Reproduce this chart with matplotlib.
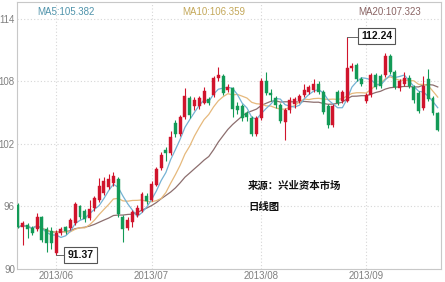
import matplotlib
matplotlib.use("Agg")
import matplotlib.pyplot as plt
import numpy as np
import pandas as pd

# ---- data ----
dates = pd.bdate_range("2013-05-22", "2013-09-23")
opens = [96.1, 94.0, 94.2, 93.9, 93.8, 95.0, 93.8, 93.6, 91.5, 93.5,
         94.0, 93.9, 94.4, 96.0, 95.6, 94.9, 95.9, 96.6, 97.3, 97.9,
         98.3, 98.6, 95.0, 93.9, 94.5, 95.2, 95.6, 97.0, 96.6, 98.1,
         99.7, 101.4, 101.1, 104.0, 103.0, 104.6, 106.4, 105.6, 105.6, 105.9,
         106.3, 106.7, 108.3, 108.5, 107.2, 107.35, 105.6, 105.6, 105.0, 104.5,
         103.0, 104.5, 108.0, 106.9, 106.4, 105.75, 104.1, 105.3, 105.8, 106.1,
         106.7, 107.0, 107.2, 107.8, 107.0, 105.6, 103.8, 107.0, 106.1, 106.1,
         109.3, 109.6, 108.2, 106.1, 106.7, 108.6, 108.5, 108.6, 110.4, 108.9,
         107.35, 107.8, 108.3, 107.5, 106.9, 105.5, 108.2, 106.4, 104.95]
highs = [96.3, 94.6, 94.4, 94.1, 95.4, 95.1, 94.0, 94.0, 93.7, 94.0,
         94.1, 94.9, 96.4, 96.1, 95.8, 96.6, 97.0, 98.7, 98.8, 99.1,
         99.3, 98.8, 95.2, 95.0, 95.7, 96.1, 97.4, 97.3, 98.4, 99.8,
         101.2, 101.7, 103.2, 104.3, 104.8, 107.4, 106.6, 106.5, 106.6, 107.5,
         106.5, 108.5, 109.4, 108.7, 107.8, 107.5, 106.0, 105.8, 105.2, 104.7,
         104.7, 108.3, 108.9, 107.3, 106.6, 105.9, 105.5, 106.5, 106.5, 106.8,
         107.8, 107.7, 108.2, 108.0, 107.2, 105.8, 105.8, 107.2, 107.2, 112.24,
         109.8, 109.8, 108.4, 106.9, 108.8, 108.8, 108.7, 110.7, 110.6, 109.1,
         108.2, 108.9, 108.6, 107.7, 107.1, 108.5, 109.2, 106.6, 105.1]
lows = [93.9, 92.3, 93.0, 93.3, 93.6, 92.6, 91.6, 91.9, 91.37, 93.3,
        93.4, 93.7, 94.2, 94.8, 94.5, 94.7, 95.6, 96.4, 97.1, 97.7,
        98.0, 95.0, 92.6, 93.7, 94.0, 95.0, 95.5, 96.2, 96.5, 98.0,
        99.5, 100.4, 100.9, 102.7, 102.8, 104.4, 104.5, 105.3, 105.4, 105.8,
        105.7, 106.5, 108.0, 106.7, 107.0, 104.6, 104.9, 104.2, 104.2, 102.8,
        102.8, 104.3, 106.7, 106.1, 105.5, 104.0, 102.4, 105.0, 105.5, 105.9,
        106.5, 106.8, 107.0, 106.8, 104.9, 103.5, 103.6, 105.7, 105.9, 106.0,
        109.0, 108.0, 107.6, 105.9, 106.5, 107.3, 107.4, 108.4, 108.7, 107.3,
        107.1, 107.6, 107.4, 105.9, 105.0, 105.3, 106.1, 104.8, 103.2]
closes = [94.0, 94.4, 93.8, 93.5, 95.0, 92.8, 92.5, 92.5, 93.5, 93.85,
          93.6, 94.7, 96.2, 95.0, 94.8, 95.8, 96.8, 98.0, 98.4, 98.6,
          98.9, 95.3, 93.8, 94.7, 95.5, 95.9, 97.2, 96.5, 98.2, 99.6,
          100.9, 101.1, 102.7, 103.0, 104.6, 106.6, 104.8, 106.2, 106.4, 107.1,
          105.9, 108.3, 108.6, 106.9, 107.5, 105.4, 105.3, 104.5, 104.6, 103.0,
          104.5, 108.0, 106.9, 106.7, 105.75, 104.2, 105.3, 106.2, 106.3, 106.6,
          107.2, 107.5, 107.8, 107.0, 105.1, 103.8, 105.6, 105.9, 107.0, 109.3,
          109.5, 108.2, 107.8, 106.7, 108.6, 107.5, 107.6, 110.4, 108.9, 107.5,
          108.0, 108.3, 107.6, 106.2, 105.2, 107.6, 106.3, 105.0, 103.3]
ma_labels = ["MA5:105.382", "MA10:106.359", "MA20:107.323"]
month_labels = ["2013/06", "2013/07", "2013/08", "2013/09"]
y_ticks = [90, 96, 102, 108, 114]
high_label = "112.24"
low_label = "91.37"
source_text = "来源：兴业资本市场"
type_text = "日线图"

# ---- figure ----
W, H = 445, 282
fig = plt.figure(figsize=(W / 100, H / 100), dpi=100)
ax = fig.add_axes([17 / W, 1 - 269 / H, 424 / W, 267 / H])

o = np.array(opens); h = np.array(highs); l = np.array(lows); c = np.array(closes)
x = np.arange(len(c))
up = c >= o
RED = "#d0142c"
GREEN = "#139a57"
cols = np.where(up, RED, GREEN)

ax.vlines(x, l, h, colors=cols, linewidth=0.8, zorder=3)
body_low = np.minimum(o, c)
body_h = np.maximum(np.abs(c - o), 0.12)
ax.bar(x, body_h, bottom=body_low, width=0.62, color=cols, edgecolor=cols,
       linewidth=0.3, zorder=4)

s = pd.Series(c)
ma5 = s.rolling(5, min_periods=1).mean()
ma10 = s.rolling(10, min_periods=1).mean()
ma20 = s.rolling(20, min_periods=1).mean()
ax.plot(x, ma20, color="#8c6e6e", lw=0.9, zorder=2)
ax.plot(x, ma10, color="#e6b97c", lw=0.9, zorder=2)
ax.plot(x, ma5, color="#74b2d4", lw=0.9, zorder=2)

ax.set_xlim(-0.21, 88.68)
ax.set_ylim(90, 115.63)

# month ticks at first trading day of each month
months = pd.Series(dates.month)
first_idx = [int(np.where(months.values == m)[0][0]) for m in [6, 7, 8, 9]]
ax.set_xticks(first_idx)
ax.set_xticklabels(month_labels)
ax.set_yticks(y_ticks)
ax.set_yticklabels([str(v) for v in y_ticks])
ax.tick_params(axis="both", length=0, labelsize=7, labelcolor="#808080", pad=1.5)
for lab in ax.get_xticklabels() + ax.get_yticklabels():
    lab.set_fontfamily("Liberation Sans")
ax.grid(True, color="#d6d6d6", linestyle=(0, (1, 2)), linewidth=0.8, zorder=0)
for sp in ax.spines.values():
    sp.set_color("#c8c8c8")
    sp.set_linewidth(0.8)

# high / low annotations
hi_i = int(np.argmax(h)); lo_i = int(np.argmin(l))
ax.plot([hi_i, hi_i + 2.7], [h[hi_i], h[hi_i]], color="#666666", lw=0.7, zorder=5)
ax.text(hi_i + 2.9, h[hi_i] + 0.12, high_label, ha="left", va="center", fontsize=7.5,
        fontweight="bold", family="Liberation Sans", color="#111111", zorder=6,
        bbox=dict(boxstyle="square,pad=0.3", fc="white", ec="#555555", lw=0.8))
ax.plot([lo_i, lo_i + 2.2], [l[lo_i], l[lo_i]], color="#666666", lw=0.7, zorder=5)
ax.text(lo_i + 2.4, l[lo_i], low_label, ha="left", va="center", fontsize=7.5,
        fontweight="bold", family="Liberation Sans", color="#111111", zorder=6,
        bbox=dict(boxstyle="square,pad=0.3", fc="white", ec="#555555", lw=0.8))

# MA labels
ma_cols = ["#4f93ab", "#c4a85a", "#8a6464"]
ma_x = [37, 182, 358]
for t, cc, px in zip(ma_labels, ma_cols, ma_x):
    fig.text(px / W, 1 - 12 / H, t, color=cc, fontsize=7, family="Liberation Sans",
             ha="left", va="center")

# source text
cjk = ["Noto Sans CJK SC", "DejaVu Sans"]
fig.text(248 / W, 1 - 186 / H, source_text, family=cjk, fontsize=7.5,
         fontweight="bold", ha="left", va="center", color="#111111")
fig.text(248 / W, 1 - 207 / H, type_text, family=cjk, fontsize=7.5,
         fontweight="bold", ha="left", va="center", color="#111111")

fig.savefig("out.png", dpi=100)
